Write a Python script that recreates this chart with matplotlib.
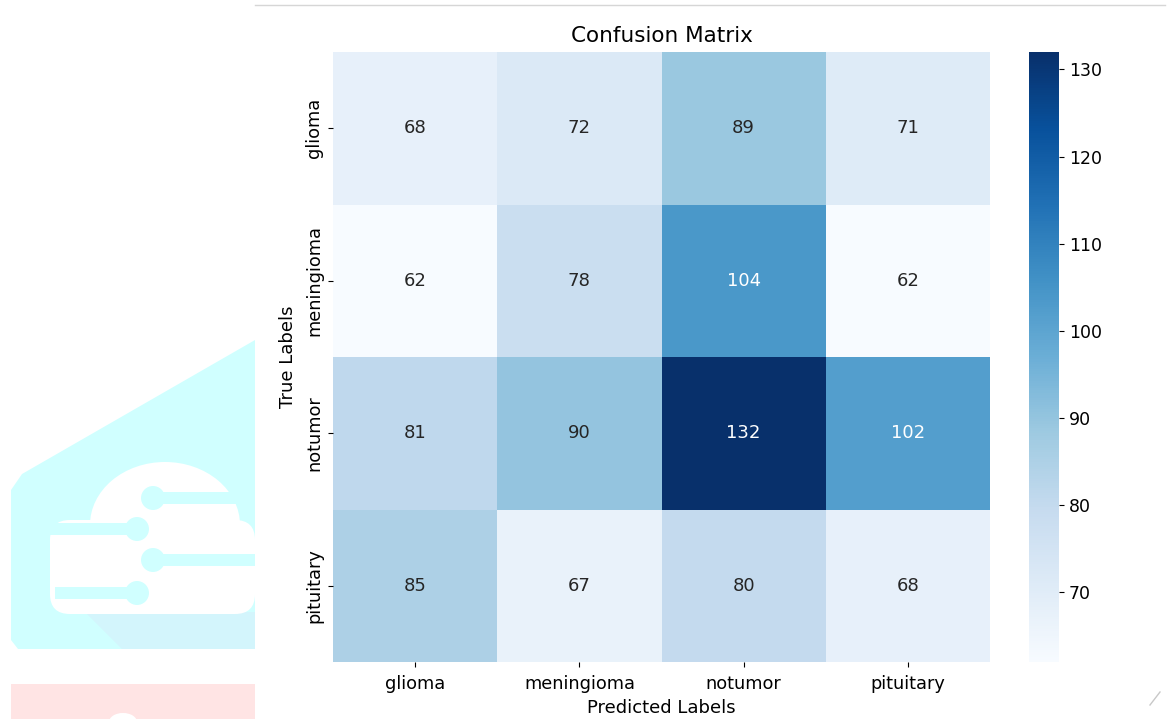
import numpy as np
import matplotlib
matplotlib.use('agg')
from matplotlib import pyplot as plt
from matplotlib import patches
import seaborn as sns

classes = ['glioma', 'meningioma', 'notumor', 'pituitary']
cm = np.array([
    [68, 72, 89, 71],
    [62, 78, 104, 62],
    [81, 90, 132, 102],
    [85, 67, 80, 68],
])
cbar_ticks = [70, 80, 90, 100, 110, 120, 130]

fig = plt.figure(figsize=(11.73, 7.19), dpi=100)

# background decoration (page watermark and rule), drawn in pixel coords
bg = fig.add_axes([0, 0, 1, 1], zorder=-1)
bg.set_xlim(0, 1173)
bg.set_ylim(719, 0)
bg.axis('off')
bg.plot([255, 1165], [5, 5], color='#d6d6d6', lw=1)
cyan = '#d0ffff'
bg.add_patch(patches.Polygon([[11, 490], [22, 474], [255, 340], [255, 649], [18, 649], [11, 640]],
                             closed=True, color=cyan, lw=0))
bg.add_patch(patches.Polygon([[85, 612], [255, 612], [255, 649], [122, 649]],
                             closed=True, color='#d3f5fc', lw=0))
bg.add_patch(patches.Ellipse((165, 525), 150, 126, color='white', lw=0))
bg.add_patch(patches.FancyBboxPatch((50, 520), 205, 94, boxstyle='round,pad=0,rounding_size=20',
                                    color='white', lw=0))
for y, x0, x1, xd in [(498, 153, 255, 153), (529, 50, 137, 137),
                      (560, 153, 255, 153), (593, 55, 137, 137)]:
    bg.add_patch(patches.Rectangle((x0, y - 6), x1 - x0, 12, color=cyan, lw=0))
    bg.add_patch(patches.Circle((xd, y), 12, color=cyan, lw=0))
bg.add_patch(patches.Rectangle((11, 684), 244, 40, color='#ffe4e4', lw=0))
bg.add_patch(patches.Ellipse((123, 722), 28, 18, color='white', lw=0))
bg.plot([1150, 1160], [705, 692], color='#c8c8c8', lw=1)

ax = fig.add_axes([333 / 1173, 1 - 662 / 719, 657 / 1173, 610 / 719])
cax = fig.add_axes([1029 / 1173, 1 - 662 / 719, 30 / 1173, 610 / 719])

sns.heatmap(cm, annot=True, fmt='d', cmap='Blues', vmin=62, vmax=132,
            xticklabels=classes, yticklabels=classes, ax=ax, cbar_ax=cax,
            annot_kws={'fontsize': 13})
ax.set_title('Confusion Matrix', fontsize=15.5, pad=7)
ax.tick_params(axis='both', labelsize=12.8)
ax.tick_params(axis='x', pad=6)
ax.set_xlabel('Predicted Labels', fontsize=13, labelpad=4)
ax.set_ylabel('True Labels', fontsize=13, labelpad=6)
plt.setp(ax.get_yticklabels(), rotation=90, va='center')
cax.set_yticks(cbar_ticks)
cax.tick_params(labelsize=12.5)

fig.savefig('out.png', dpi=100)
